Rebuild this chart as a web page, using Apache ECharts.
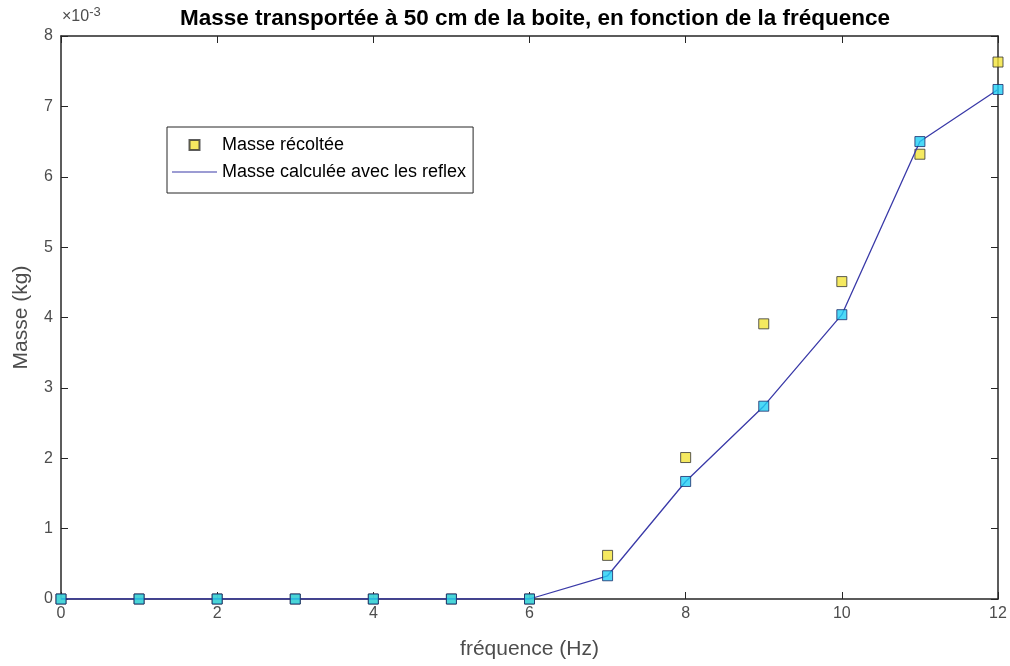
<!DOCTYPE html>
<html>
<head>
<meta charset="utf-8">
<script src="https://cdn.jsdelivr.net/npm/echarts@6/dist/echarts.min.js"></script>
<style>
  html, body { margin: 0; padding: 0; background: #fff; }
  #main { width: 1010px; height: 666px; }
</style>
</head>
<body>
<div id="main"></div>
<script>
// fréquence (Hz)
const freq = [0, 1, 2, 3, 4, 5, 6, 7, 8, 9, 10, 11, 12];
// masse en 1e-3 kg
const masseRecoltee = [0, 0, 0, 0, 0, 0, 0, 0.62, 2.01, 3.91, 4.51, 6.32, 7.63];
const masseCalculee = [0, 0, 0, 0, 0, 0, 0, 0.33, 1.67, 2.74, 4.04, 6.50, 7.24];

const axisColor = "#262626";
const labelColor = "#4d4d4d";

const toPoints = (vals) => freq.map((f, i) => [f, vals[i]]);

const myChart = echarts.init(document.getElementById("main"));

// axe secondaire (haut / droite) : juste la boite avec les ticks
function boxAxis(pos, max, interval) {
  return {
    type: "value",
    position: pos,
    min: 0,
    max: max,
    interval: interval,
    axisLine: { show: true, onZero: false, lineStyle: { color: axisColor, width: 1.5 } },
    axisTick: { show: true, inside: true, length: 7, lineStyle: { color: axisColor } },
    axisLabel: { show: false },
    splitLine: { show: false },
  };
}

const option = {
  backgroundColor: "#fff",
  animation: false,
  title: {
    text: "Masse transportée à 50 cm de la boite, en fonction de la fréquence",
    left: 530,
    textAlign: "center",
    top: 2,
    textStyle: { fontFamily: "Arial", fontSize: 22.5, fontWeight: "bold", color: "#000" },
  },
  grid: { left: 61, right: 12, top: 36, bottom: 67 },
  legend: {
    orient: "vertical",
    left: 167,
    top: 127,
    backgroundColor: "#fff",
    borderColor: "#262626",
    borderWidth: 1,
    padding: [9, 7, 12, 5],
    itemGap: 9,
    itemWidth: 45,
    itemHeight: 10,
    textStyle: { fontFamily: "Arial", fontSize: 18, color: "#000" },
    data: [
      { name: "Masse récoltée", icon: "path://M0,0H10V10H0Z" },
      { name: "Masse calculée avec les reflex", icon: "path://M0,0H45V1H0Z" },
    ],
  },
  graphic: [
    {
      type: "text",
      left: 62,
      top: 6,
      style: {
        text: "×10{sup|-3}",
        fontFamily: "Arial",
        fontSize: 16,
        fill: labelColor,
        rich: { sup: { fontSize: 13, fill: labelColor, verticalAlign: "top", padding: [0, 0, 8, 0] } },
      },
    },
  ],
  xAxis: [
    {
      type: "value",
      min: 0,
      max: 12,
      interval: 2,
      name: "fréquence (Hz)",
      nameLocation: "middle",
      nameGap: 40,
      nameTextStyle: { fontFamily: "Arial", fontSize: 21, color: labelColor },
      axisLine: { onZero: false, lineStyle: { color: axisColor, width: 1.5 } },
      axisTick: { inside: true, length: 7, lineStyle: { color: axisColor } },
      axisLabel: { fontFamily: "Arial", fontSize: 16, color: labelColor, margin: 7 },
      splitLine: { show: false },
    },
    boxAxis("top", 12, 2),
  ],
  yAxis: [
    {
      type: "value",
      min: 0,
      max: 8,
      interval: 1,
      name: "Masse (kg)",
      nameLocation: "middle",
      nameGap: 29,
      nameTextStyle: { fontFamily: "Arial", fontSize: 21, color: labelColor },
      axisLine: { show: true, onZero: false, lineStyle: { color: axisColor, width: 1.5 } },
      axisTick: { show: true, inside: true, length: 7, lineStyle: { color: axisColor } },
      axisLabel: { fontFamily: "Arial", fontSize: 16, color: labelColor, margin: 8 },
      splitLine: { show: false },
    },
    boxAxis("right", 8, 1),
  ],
  series: [
    {
      name: "Masse récoltée",
      type: "scatter",
      symbol: "rect",
      symbolSize: 10,
      itemStyle: { color: "#f2e338", borderColor: "#333", borderWidth: 1 },
      data: toPoints(masseRecoltee),
      z: 2,
    },
    {
      name: "Masse calculée avec les reflex",
      type: "line",
      symbol: "none",
      lineStyle: { color: "#3a3aa8", width: 1.3 },
      itemStyle: { color: "#3a3aa8" },
      data: toPoints(masseCalculee),
      z: 3,
    },
    {
      name: "calc_markers",
      type: "scatter",
      symbol: "rect",
      symbolSize: 10,
      itemStyle: { color: "#1fcff5", borderColor: "#1a2a6a", borderWidth: 1 },
      data: toPoints(masseCalculee),
      z: 4,
    },
  ],
};

myChart.setOption(option);
</script>
</body>
</html>
